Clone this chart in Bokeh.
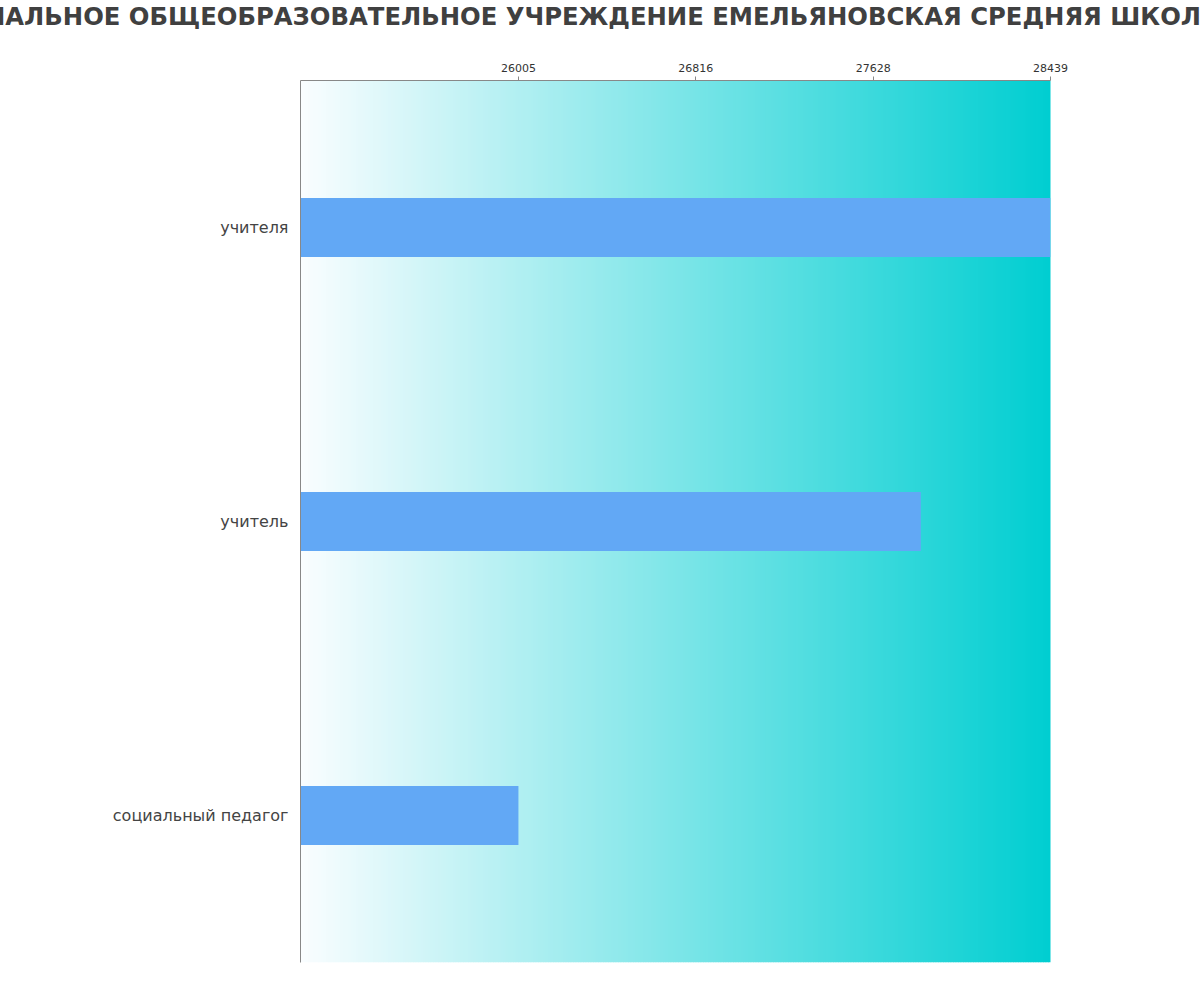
from bokeh.plotting import figure
from bokeh.models import FactorRange, Range1d, FixedTicker, Title
from bokeh.embed import file_html
from bokeh.resources import INLINE

# ---- data ----
categories = ["учителя", "учитель", "социальный педагог"]
salaries = [28439, 27846, 26005]
tick_values = [26005, 26816, 27628, 28439]
title_text = "МУНИЦИПАЛЬНОЕ ОБЩЕОБРАЗОВАТЕЛЬНОЕ УЧРЕЖДЕНИЕ ЕМЕЛЬЯНОВСКАЯ СРЕДНЯЯ ШКОЛА №1"

x_start = 25008
x_end = max(salaries)

W, H = 1200, 992
p = figure(
    width=W, height=H,
    y_range=FactorRange(factors=list(reversed(categories))),
    x_range=Range1d(x_start, x_end),
    output_backend="svg", toolbar_location=None,
    x_axis_location="above",
    min_border_left=300, min_border_right=150,
    min_border_top=0, min_border_bottom=30,
)
p.y_range.range_padding = 0

# gradient background (strips)
n = 300
c0 = (250, 253, 255)
c1 = (0, 206, 209)
lefts, rights, cols = [], [], []
step = (x_end - x_start) / n
for i in range(n):
    t = (i + 0.5) / n
    r = round(c0[0] + (c1[0] - c0[0]) * t)
    g = round(c0[1] + (c1[1] - c0[1]) * t)
    b = round(c0[2] + (c1[2] - c0[2]) * t)
    lefts.append(x_start + i * step)
    rights.append(x_start + (i + 1) * step + step * 0.3)
    cols.append("#%02x%02x%02x" % (r, g, b))
p.quad(left=lefts, right=rights, bottom=0, top=len(categories),
       fill_color=cols, line_color=None)

p.hbar(y=categories, right=salaries, left=x_start, height=0.2,
       fill_color="#62a8f5", line_color=None)

p.grid.visible = False
p.outline_line_color = None
p.background_fill_color = "white"

xa = p.xaxis[0]
xa.ticker = FixedTicker(ticks=tick_values)
xa.major_label_text_font_size = "11px"
xa.major_label_text_color = "#333333"
xa.major_label_text_font = "DejaVu Sans"
xa.axis_line_color = "#888888"
xa.major_tick_line_color = "#888888"
xa.major_tick_out = 4
xa.major_tick_in = 0
xa.minor_tick_line_color = None
xa.major_label_standoff = 5
xa.axis_label = " "
xa.axis_label_text_font_size = "13px"
xa.axis_label_standoff = 11

ya = p.yaxis[0]
ya.major_label_text_font_size = "16px"
ya.major_label_text_color = "#444444"
ya.major_label_text_font = "DejaVu Sans"
ya.axis_line_color = "#888888"
ya.major_tick_line_color = None
ya.minor_tick_line_color = None
ya.major_label_standoff = 6

t = Title(text=title_text, align="left", offset=-442, standoff=0,
          text_font="DejaVu Sans", text_font_size="24.3px", text_font_style="bold",
          text_color="#404040")
try:
    t.standoff = -2
    xa.axis_label_standoff = 13
except Exception:
    pass
p.add_layout(t, "above")

open("out.html", "w").write(file_html(p, INLINE))
